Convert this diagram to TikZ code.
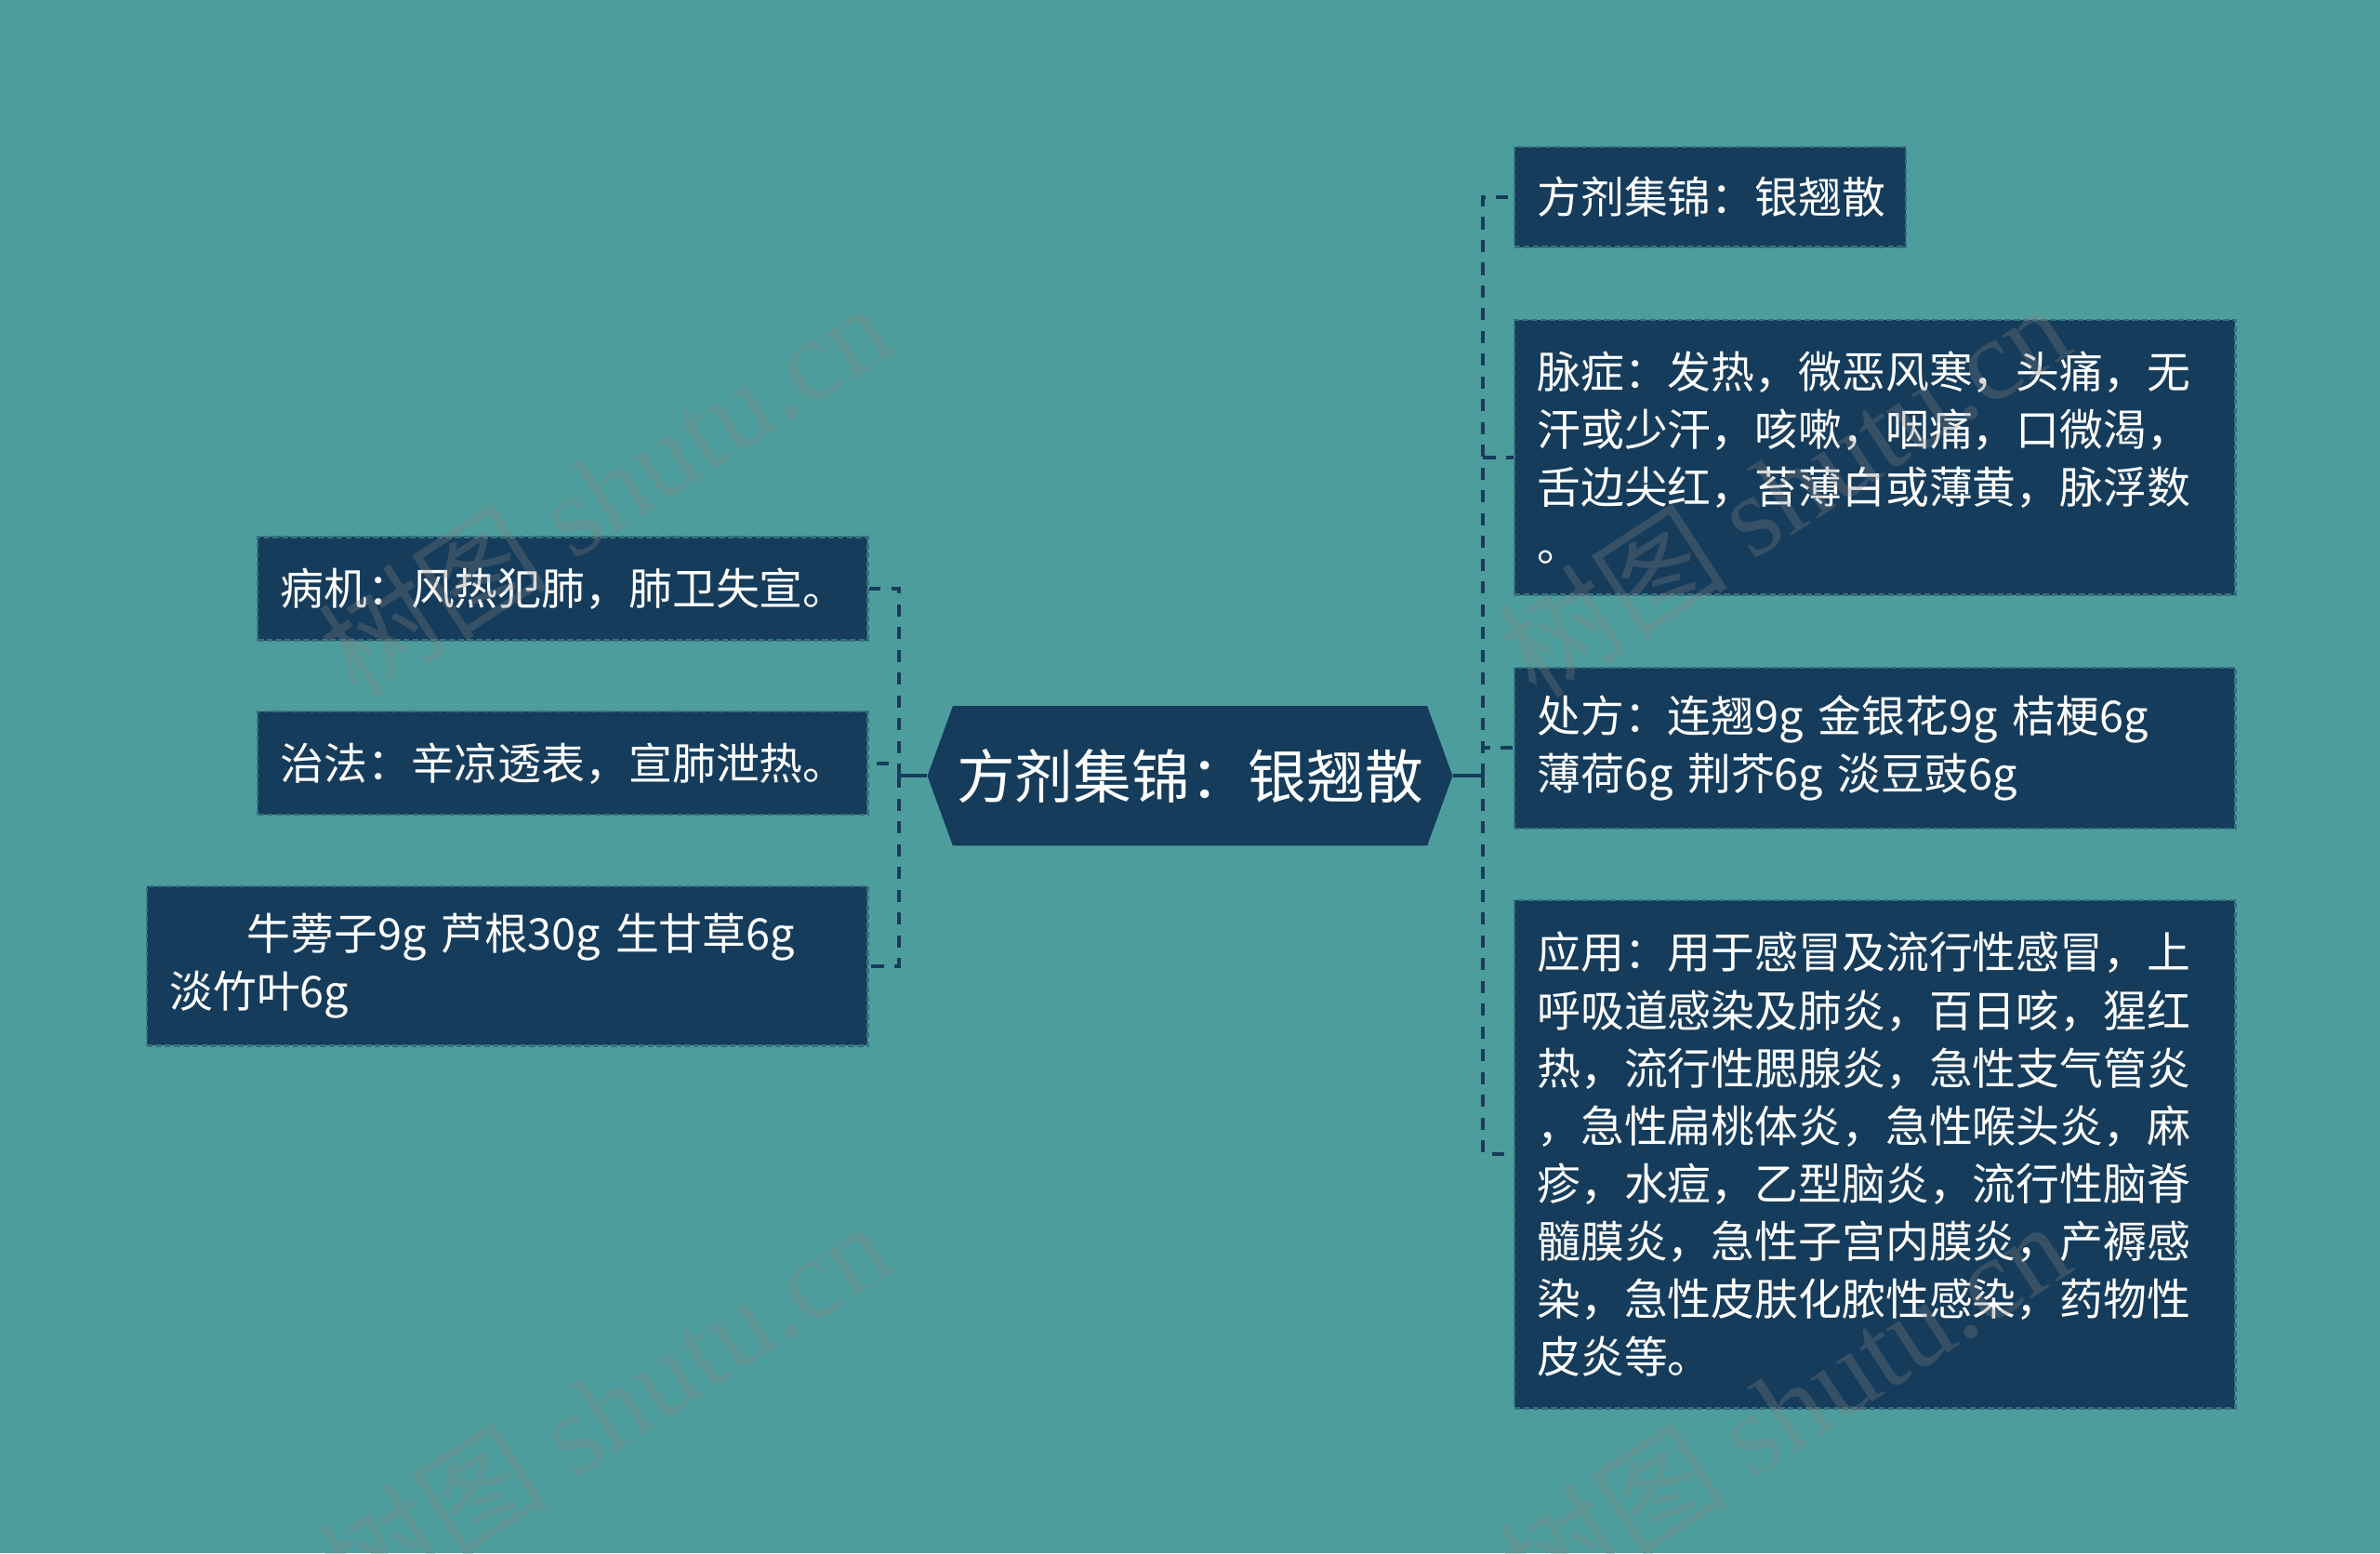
\documentclass[tikz,border=0pt]{standalone}
\usepackage{fontspec}
\setmainfont{Noto Sans CJK SC}
\newfontfamily\wmserif{Liberation Serif}
\usetikzlibrary{shapes.symbols}
\definecolor{bgteal}{HTML}{4E9D9D}
\definecolor{navy}{HTML}{163C5B}
\begin{document}
\begin{tikzpicture}[x=0.5pt, y=-0.5pt,
        root/.style={signal, signal to=west and east, signal pointer angle=140,
            fill=navy, text=white, minimum width=173pt, minimum height=46pt, inner sep=0pt,
            font=\fontsize{19.2pt}{24pt}\selectfont},
        leaf/.style={anchor=north west, fill=navy, draw=bgteal!55!navy, line width=0.7pt,
            dash pattern=on 2pt off 1pt, text=white, align=left, inner xsep=7.5pt, inner ysep=0pt,
            font=\fontsize{14.35pt}{19pt}\selectfont},
        link/.style={navy, line width=1.2pt},
        dlink/.style={link, dash pattern=on 4pt off 3.5pt},
        wmark/.style={gray, opacity=0.3, rotate=33, inner sep=0pt,
            font=\fontsize{38pt}{38pt}\selectfont},
    ]
    \fill[bgteal] (0,0) rectangle (1568,1023);
    \useasboundingbox (0,0) rectangle (1568,1023);
    \node[root] (a) at (784,511) {方剂集锦：银翘散};
    \node[leaf, text width=186pt, minimum height=34pt] (b1) at (169,353) {病机：风热犯肺，肺卫失宣。};
    \node[leaf, text width=186pt, minimum height=34pt] (b2) at (169,468) {治法：辛凉透表，宣肺泄热。};
    \node[leaf, text width=222.5pt, minimum height=52.5pt] (b3) at (96,583)
        {\hspace*{25.5pt}牛蒡子9g 芦根30g 生甘草6g\\淡竹叶6g};
    \node[leaf, text width=114pt, minimum height=33pt] (c1) at (997,96) {方剂集锦：银翘散};
    \node[leaf, text width=222.5pt, minimum height=90.5pt] (c2) at (997,210)
        {脉症：发热，微恶风寒，头痛，无\\汗或少汗，咳嗽，咽痛，口微渴，\\舌边尖红，苔薄白或薄黄，脉浮数\\。};
    \node[leaf, text width=222.5pt, minimum height=53pt] (c3) at (997,439)
        {处方：连翘9g 金银花9g 桔梗6g\\薄荷6g 荆芥6g 淡豆豉6g};
    \node[leaf, text width=222.5pt, minimum height=167.5pt] (c4) at (997,592)
        {应用：用于感冒及流行性感冒，上\\呼吸道感染及肺炎，百日咳，猩红\\热，流行性腮腺炎，急性支气管炎\\，急性扁桃体炎，急性喉头炎，麻\\疹，水痘，乙型脑炎，流行性脑脊\\髓膜炎，急性子宫内膜炎，产褥感\\染，急性皮肤化脓性感染，药物性\\皮炎等。};
    \coordinate (lj) at (592,511);
    \coordinate (rj) at (977,511);
    \draw[link] (a.west) -- (lj);
    \draw[link] (a.east) -- (rj);
    \draw[dlink] (lj) |- (b1.east);
    \draw[dlink] (lj) |- (b2.east);
    \draw[dlink] (lj) |- (b3.east);
    \draw[dlink] (rj) |- (c1.west);
    \draw[dlink] (rj) |- (c2.west);
    \draw[dlink] (rj) |- (c3.west);
    \draw[dlink] (rj) |- (c4.west);
    \node[wmark] (w1) at (398,322) {树图 {\wmserif shutu.cn}};
    \node[wmark] (w2) at (1175,322) {树图 {\wmserif shutu.cn}};
    \node[wmark] (w3) at (398,927) {树图 {\wmserif shutu.cn}};
    \node[wmark] (w4) at (1175,927) {树图 {\wmserif shutu.cn}};
\end{tikzpicture}
\end{document}
